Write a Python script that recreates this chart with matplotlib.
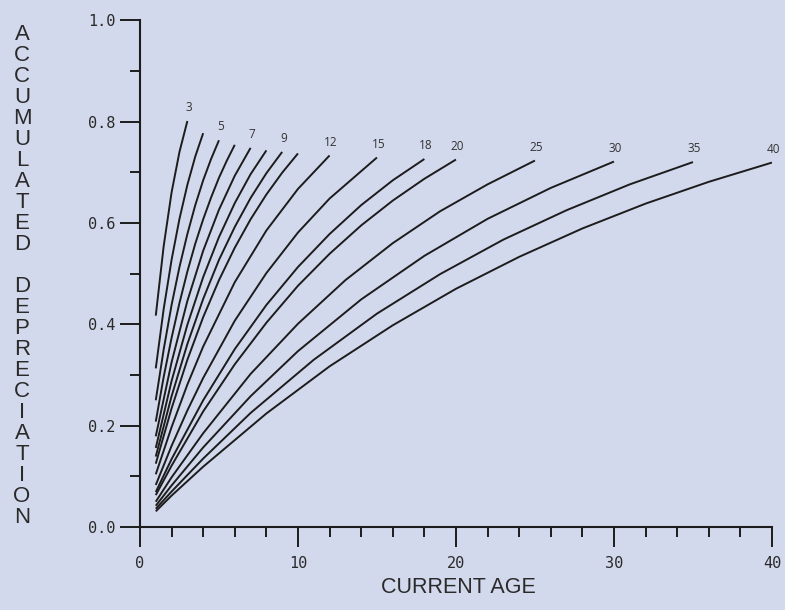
import matplotlib
matplotlib.use("Agg")
import matplotlib.pyplot as plt
from matplotlib.ticker import MultipleLocator

# accumulated depreciation, one curve per service life
lives = [3, 4, 5, 6, 7, 8, 9, 10, 12, 15, 18, 20, 25, 30, 35, 40]
ages = {
    3: [1, 1.5, 2, 2.5, 3],
    4: [1, 1.5, 2, 2.5, 3, 3.5, 4],
    5: [1, 1.5, 2, 2.5, 3, 3.5, 4, 4.5, 5],
    6: [1, 1.5, 2, 2.5, 3, 3.5, 4, 4.5, 5, 5.5, 6],
    7: [1, 2, 3, 4, 5, 6, 7],
    8: [1, 2, 3, 4, 5, 6, 7, 8],
    9: [1, 2, 3, 4, 5, 6, 7, 8, 9],
    10: [1, 2, 3, 4, 5, 6, 7, 8, 9, 10],
    12: [1, 2, 3, 4, 6, 8, 10, 12],
    15: [1, 2, 3, 4, 6, 8, 10, 12, 15],
    18: [1, 2, 4, 6, 8, 10, 12, 14, 16, 18],
    20: [1, 2, 4, 6, 8, 10, 12, 14, 16, 18, 20],
    25: [1, 2, 4, 7, 10, 13, 16, 19, 22, 25],
    30: [1, 2, 4, 7, 10, 14, 18, 22, 26, 30],
    35: [1, 2, 4, 7, 11, 15, 19, 23, 27, 31, 35],
    40: [1, 2, 4, 8, 12, 16, 20, 24, 28, 32, 36, 40],
}
depr = {
    3: [0.417, 0.554, 0.660, 0.740, 0.801],
    4: [0.313, 0.430, 0.527, 0.608, 0.675, 0.731, 0.777],
    5: [0.250, 0.350, 0.438, 0.513, 0.578, 0.635, 0.684, 0.726, 0.763],
    6: [0.208, 0.296, 0.373, 0.442, 0.504, 0.559, 0.607, 0.650, 0.689, 0.723, 0.754],
    7: [0.179, 0.325, 0.446, 0.545, 0.626, 0.693, 0.748],
    8: [0.156, 0.288, 0.399, 0.493, 0.572, 0.639, 0.696, 0.743],
    9: [0.139, 0.258, 0.361, 0.450, 0.527, 0.592, 0.649, 0.698, 0.740],
    10: [0.125, 0.234, 0.330, 0.414, 0.487, 0.551, 0.607, 0.656, 0.699, 0.737],
    12: [0.104, 0.197, 0.281, 0.356, 0.483, 0.585, 0.667, 0.733],
    15: [0.083, 0.160, 0.230, 0.294, 0.407, 0.501, 0.581, 0.648, 0.729],
    18: [0.069, 0.134, 0.250, 0.351, 0.438, 0.513, 0.578, 0.635, 0.684, 0.726],
    20: [0.063, 0.121, 0.228, 0.321, 0.403, 0.476, 0.539, 0.595, 0.644, 0.687, 0.725],
    25: [0.050, 0.098, 0.185, 0.302, 0.401, 0.487, 0.560, 0.623, 0.676, 0.723],
    30: [0.042, 0.082, 0.157, 0.258, 0.347, 0.449, 0.535, 0.608, 0.669, 0.721],
    35: [0.036, 0.070, 0.135, 0.225, 0.330, 0.421, 0.499, 0.567, 0.625, 0.676, 0.720],
    40: [0.031, 0.062, 0.119, 0.224, 0.317, 0.398, 0.470, 0.533, 0.589, 0.638, 0.681, 0.719],
}
labelled = [3, 5, 7, 9, 12, 15, 18, 20, 25, 30, 35, 40]

bg = "#d3d9ec"
ink = "#1c1c1c"

fig = plt.figure(figsize=(7.85, 6.1), dpi=100, facecolor=bg)
ax = fig.add_axes([0.1783, 0.136, 0.8051, 0.831])
ax.set_facecolor(bg)

for life in lives:
    ax.plot(ages[life], depr[life], color=ink, lw=1.4, solid_capstyle="butt",
            solid_joinstyle="round")
    if life in labelled:
        ax.annotate(str(life), (ages[life][-1], depr[life][-1]), xytext=(1, 5),
                    textcoords="offset points", ha="center", va="bottom",
                    fontsize=8.5, family="Open Sans", color="#333333")

ax.set_xlim(0, 40)
ax.set_ylim(0, 1.0)
for side in ["top", "right"]:
    ax.spines[side].set_visible(False)
for side in ["left", "bottom"]:
    ax.spines[side].set_color(ink)
    ax.spines[side].set_linewidth(1.5)

ax.xaxis.set_minor_locator(MultipleLocator(2))
ax.yaxis.set_minor_locator(MultipleLocator(0.1))
ax.set_xticks([0, 10, 20, 30, 40])
ax.set_xticklabels(["0", "10", "20", "30", "40"])
ax.set_yticks([0.0, 0.2, 0.4, 0.6, 0.8, 1.0])
ax.set_yticklabels(["0.0", "0.2", "0.4", "0.6", "0.8", "1.0"])
ax.tick_params(which="major", length=14.5, width=1.4, color=ink)
ax.tick_params(which="minor", length=7, width=1.4, color=ink)
ax.tick_params(axis="x", which="major", pad=6)
ax.tick_params(axis="y", which="major", pad=3)
for lab in ax.get_xticklabels() + ax.get_yticklabels():
    lab.set_family("DejaVu Sans Mono")
    lab.set_fontsize(11)
    lab.set_color("#2a2a2a")

fig.text(0.584, 0.037, "CURRENT AGE", ha="center", va="center",
         fontsize=15.5, family="Liberation Sans", color="#2a2a2a")
ylab = "\n".join("ACCUMULATED") + "\n\n" + "\n".join("DEPRECIATION")
fig.text(0.028, 0.548, ylab, ha="center", va="center", fontsize=16,
         family="Liberation Sans", color="#2a2a2a", linespacing=1.0)

fig.savefig("out.png", dpi=100, facecolor=bg)
